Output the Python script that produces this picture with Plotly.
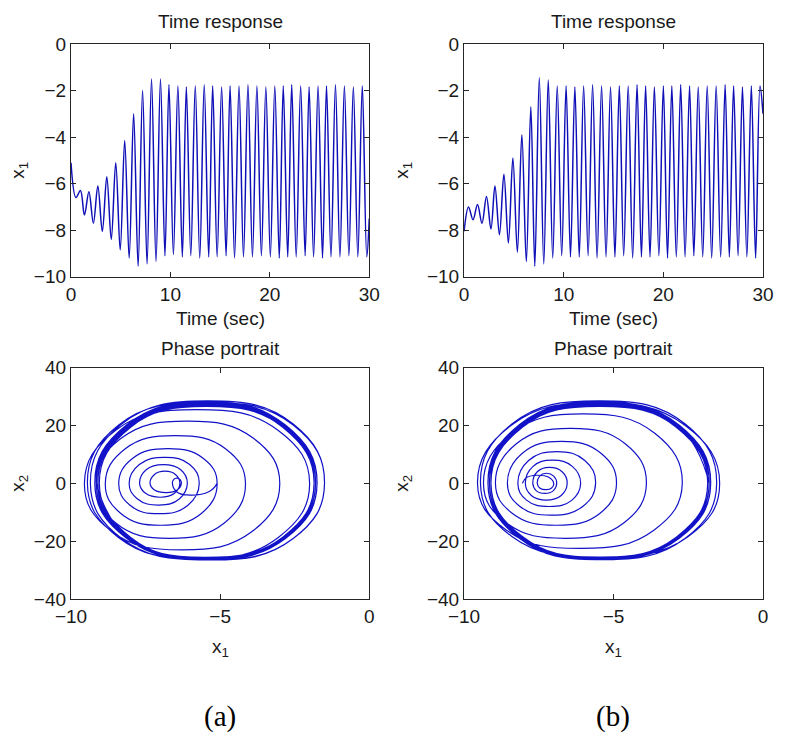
import plotly.graph_objects as go

# ---------------- data ----------------
# Panel (a): time and x1 at the start point and at each extremum of x1
a_t = [0.00, 0.50, 0.95, 1.35, 1.80, 2.25, 2.70, 3.15, 3.60, 4.05,
       4.50, 4.95, 5.40, 5.85, 6.30, 6.75, 7.20, 7.65, 8.10, 8.55,
       9.00, 9.45, 9.85, 10.30, 10.75, 11.20, 11.60, 12.05, 12.50, 12.95,
       13.40, 13.85, 14.25, 14.70, 15.15, 15.60, 16.00, 16.45, 16.90, 17.35,
       17.80, 18.25, 18.70, 19.15, 19.60, 20.05, 20.50, 20.95, 21.35, 21.80,
       22.20, 22.65, 23.10, 23.55, 23.95, 24.40, 24.85, 25.30, 25.70, 26.15,
       26.60, 27.05, 27.50, 27.95, 28.40, 28.85, 29.30, 29.75]
a_x1 = [-5.10, -6.60, -6.30, -7.35, -6.35, -7.70, -6.10, -8.05, -5.70, -8.40,
        -5.10, -8.85, -4.15, -9.20, -3.00, -9.55, -2.00, -9.45, -1.50, -9.35,
        -1.50, -9.10, -1.75, -9.05, -1.80, -9.15, -1.85, -9.10, -1.80, -9.20,
        -1.75, -9.15, -1.80, -9.15, -1.85, -9.10, -1.80, -9.20, -1.80, -9.15,
        -1.75, -9.15, -1.80, -9.10, -1.85, -9.15, -1.80, -9.20, -1.80, -9.15,
        -1.75, -9.15, -1.80, -9.10, -1.85, -9.15, -1.80, -9.20, -1.80, -9.15,
        -1.75, -9.15, -1.80, -9.10, -1.85, -9.15, -1.80, -9.15]
a_end_t, a_end_x1 = 30.0, -7.5
# phase portrait (a): per half-turn, the x2 extreme and where it sits in x1
a_hx2 = [-4.0, 1.8, -3.2, 4.2, -4.8, 6.5, -7.5, 9.0, -10.5, 12.0,
         -14.5, 16.5, -19.0, 21.5, -23.0, 25.5, -26.0, 28.0, -26.5, 28.5,
         -26.5, 27.5, -26.0, 27.0, -25.8, 27.8, -26.3, 26.8, -25.6, 27.5,
         -26.2, 28.2, -25.9, 27.2, -26.4, 26.6, -25.7, 27.9, -26.1, 27.3,
         -25.8, 26.9, -26.3, 28.0, -25.9, 27.4, -26.2, 26.7, -25.6, 27.6,
         -26.4, 28.1, -25.9, 27.0, -26.1, 27.5, -25.8, 26.8, -26.3, 27.9,
         -26.0, 27.2, -25.7, 27.6, -26.2, 26.9, -26.0]
a_hx1 = [-6.10, -6.45, -6.80, -6.85, -7.00, -6.90, -7.05, -6.85, -7.05, -6.75,
         -7.00, -6.50, -6.70, -6.10, -6.30, -5.80, -5.75, -5.50, -5.45, -5.40,
         -5.35, -5.40, -5.50, -5.45, -5.55, -5.40, -5.60, -5.45, -5.50, -5.40,
         -5.55, -5.45, -5.60, -5.40, -5.50, -5.45, -5.55, -5.40, -5.60, -5.45,
         -5.50, -5.40, -5.55, -5.45, -5.60, -5.40, -5.50, -5.45, -5.55, -5.40,
         -5.60, -5.45, -5.50, -5.40, -5.55, -5.45, -5.60, -5.40, -5.50, -5.45,
         -5.55, -5.40, -5.60, -5.45, -5.50, -5.40, -5.55]
# shoulder points of each half-turn (before / after the x2 extreme) and their x2
a_cAx1 = [-5.38, -6.56, -6.44, -7.21, -6.53, -7.48, -6.37, -7.71, -6.08, -7.94,
          -5.63, -8.19, -4.86, -8.33, -3.92, -8.50, -3.05, -8.40, -2.55, -8.30,
          -2.55, -8.05, -2.80, -8.00, -2.85, -8.10, -2.90, -8.05, -2.85, -8.15,
          -2.80, -8.10, -2.85, -8.10, -2.90, -8.05, -2.85, -8.15, -2.85, -8.10,
          -2.80, -8.10, -2.85, -8.05, -2.90, -8.10, -2.85, -8.15, -2.85, -8.10,
          -2.80, -8.10, -2.85, -8.05, -2.90, -8.10, -2.85, -8.15, -2.85, -8.10,
          -2.80, -8.10, -2.85, -8.05, -2.90, -8.10, -2.85]
a_cBx1 = [-6.46, -6.34, -7.20, -6.49, -7.50, -6.32, -7.77, -6.02, -8.02, -5.56,
          -8.33, -4.81, -8.50, -3.87, -8.64, -3.06, -8.41, -2.55, -8.30, -2.55,
          -8.05, -2.80, -8.00, -2.85, -8.10, -2.90, -8.05, -2.85, -8.15, -2.80,
          -8.10, -2.85, -8.10, -2.90, -8.05, -2.85, -8.15, -2.85, -8.10, -2.80,
          -8.10, -2.85, -8.05, -2.90, -8.10, -2.85, -8.15, -2.85, -8.10, -2.80,
          -8.10, -2.85, -8.05, -2.90, -8.10, -2.85, -8.15, -2.85, -8.10, -2.80,
          -8.10, -2.85, -8.05, -2.90, -8.10, -2.85, -8.10]
a_cx2 = [-2.9, 1.3, -2.3, 3.0, -3.45, 4.7, -5.4, 6.5, -7.6, 8.6,
         -10.4, 11.9, -13.7, 15.5, -16.6, 18.4, -18.7, 20.2, -19.1, 20.5,
         -19.1, 19.8, -18.7, 19.4, -18.6, 20.0, -18.9, 19.3, -18.4, 19.8,
         -18.9, 20.3, -18.6, 19.6, -19.0, 19.2, -18.5, 20.1, -18.8, 19.7,
         -18.6, 19.4, -18.9, 20.2, -18.6, 19.7, -18.9, 19.2, -18.4, 19.9,
         -19.0, 20.2, -18.6, 19.4, -18.8, 19.8, -18.6, 19.3, -18.9, 20.1,
         -18.7, 19.6, -18.5, 19.9, -18.9, 19.4, -18.7]

# Panel (b)
b_t = [0.00, 0.45, 0.90, 1.35, 1.80, 2.25, 2.70, 3.10, 3.55, 4.00,
       4.45, 4.90, 5.35, 5.80, 6.25, 6.70, 7.10, 7.55, 8.00, 8.45,
       8.90, 9.35, 9.80, 10.24, 10.68, 11.12, 11.56, 12.00, 12.45, 12.90,
       13.35, 13.80, 14.25, 14.70, 15.14, 15.58, 16.02, 16.47, 16.92, 17.36,
       17.80, 18.22, 18.66, 19.10, 19.55, 20.00, 20.42, 20.85, 21.30, 21.74,
       22.18, 22.63, 23.06, 23.50, 23.95, 24.40, 24.85, 25.30, 25.75, 26.20,
       26.62, 27.05, 27.50, 27.94, 28.38, 28.83, 29.26, 29.70]
b_x1 = [-8.05, -7.00, -7.55, -6.90, -7.70, -6.55, -7.95, -6.10, -8.20, -5.60,
        -8.55, -4.90, -8.95, -3.90, -9.35, -2.70, -9.55, -1.45, -9.45, -1.55,
        -9.20, -1.80, -9.10, -1.80, -9.15, -1.85, -9.15, -1.80, -9.10, -1.75,
        -9.20, -1.80, -9.15, -1.85, -9.15, -1.80, -9.10, -1.80, -9.20, -1.75,
        -9.15, -1.80, -9.15, -1.85, -9.10, -1.80, -9.20, -1.80, -9.15, -1.75,
        -9.15, -1.80, -9.10, -1.85, -9.15, -1.80, -9.20, -1.80, -9.15, -1.75,
        -9.15, -1.80, -9.10, -1.85, -9.15, -1.80, -9.20, -1.80]
b_end_t, b_end_x1 = 30.0, -3.0
b_hx2 = [2.8, -2.2, 3.5, -3.5, 5.5, -5.8, 8.0, -8.0, 11.0, -11.0,
         14.5, -14.5, 19.0, -19.0, 24.0, -22.5, 27.8, -25.5, 28.5, -26.4,
         27.5, -26.2, 27.0, -25.8, 27.8, -26.3, 26.8, -25.6, 27.5, -26.2,
         28.2, -25.9, 27.2, -26.4, 26.6, -25.7, 27.9, -26.1, 27.3, -25.8,
         26.9, -26.3, 28.0, -25.9, 27.4, -26.2, 26.7, -25.6, 27.6, -26.4,
         28.1, -25.9, 27.0, -26.1, 27.5, -25.8, 26.8, -26.3, 27.9, -26.0,
         27.2, -25.7, 27.6, -26.2, 26.9, -26.0, 27.3]
b_hx1 = [-7.55, -7.25, -7.25, -7.30, -7.15, -7.25, -7.05, -7.15, -6.90, -7.10,
         -6.75, -6.90, -6.45, -6.60, -6.00, -6.10, -5.55, -5.50, -5.45, -5.50,
         -5.45, -5.50, -5.45, -5.55, -5.40, -5.60, -5.45, -5.50, -5.40, -5.55,
         -5.45, -5.60, -5.40, -5.50, -5.45, -5.55, -5.40, -5.60, -5.45, -5.50,
         -5.40, -5.55, -5.45, -5.60, -5.40, -5.50, -5.45, -5.55, -5.40, -5.60,
         -5.45, -5.50, -5.40, -5.55, -5.45, -5.60, -5.40, -5.50, -5.45, -5.55,
         -5.40, -5.60, -5.45, -5.50, -5.40, -5.55, -5.45]
b_cAx1 = [-7.91, -7.07, -7.47, -7.01, -7.55, -6.75, -7.70, -6.39, -7.84, -6.02,
          -8.05, -5.46, -8.25, -4.66, -8.41, -3.65, -8.43, -2.50, -8.40, -2.60,
          -8.15, -2.85, -8.05, -2.85, -8.10, -2.90, -8.10, -2.85, -8.05, -2.80,
          -8.15, -2.85, -8.10, -2.90, -8.10, -2.85, -8.05, -2.85, -8.15, -2.80,
          -8.10, -2.85, -8.10, -2.90, -8.05, -2.85, -8.15, -2.85, -8.10, -2.80,
          -8.10, -2.85, -8.05, -2.90, -8.10, -2.85, -8.15, -2.85, -8.10, -2.80,
          -8.10, -2.85, -8.05, -2.90, -8.10, -2.85, -8.15]
b_cBx1 = [-7.15, -7.47, -7.00, -7.59, -6.72, -7.75, -6.37, -7.91, -5.96, -8.14,
          -5.42, -8.38, -4.61, -8.58, -3.62, -8.58, -2.60, -8.40, -2.60, -8.15,
          -2.85, -8.05, -2.85, -8.10, -2.90, -8.10, -2.85, -8.05, -2.80, -8.15,
          -2.85, -8.10, -2.90, -8.10, -2.85, -8.05, -2.85, -8.15, -2.80, -8.10,
          -2.85, -8.10, -2.90, -8.05, -2.85, -8.15, -2.85, -8.10, -2.80, -8.10,
          -2.85, -8.05, -2.90, -8.10, -2.85, -8.15, -2.85, -8.10, -2.80, -8.10,
          -2.85, -8.05, -2.90, -8.10, -2.85, -8.15, -2.85]
b_cx2 = [2.0, -1.6, 2.5, -2.5, 4.0, -4.2, 5.8, -5.8, 7.9, -7.9,
         10.4, -10.4, 13.7, -13.7, 17.3, -16.2, 20.0, -18.4, 20.5, -19.0,
         19.8, -18.9, 19.4, -18.6, 20.0, -18.9, 19.3, -18.4, 19.8, -18.9,
         20.3, -18.6, 19.6, -19.0, 19.2, -18.5, 20.1, -18.8, 19.7, -18.6,
         19.4, -18.9, 20.2, -18.6, 19.7, -18.9, 19.2, -18.4, 19.9, -19.0,
         20.2, -18.6, 19.4, -18.8, 19.8, -18.6, 19.3, -18.9, 20.1, -18.7,
         19.6, -18.5, 19.9, -18.9, 19.4, -18.7, 19.7]

time_ticks = [0, 10, 20, 30]
x1_ticks = [0, -2, -4, -6, -8, -10]
ph_x_ticks = [-10, -5, 0]
ph_y_ticks = [-40, -20, 0, 20, 40]
panel_labels = ["(a)", "(b)"]


def phase_path(ext_x1, cax1, hx1, cbx1, cx2, hx2):
    xs, ys = [], []
    for i in range(len(hx1)):
        xs += [ext_x1[i], cax1[i], hx1[i], cbx1[i]]
        ys += [0, cx2[i], hx2[i], cx2[i]]
    xs.append(ext_x1[-1])
    ys.append(0)
    return xs, ys


LINE_T = dict(color="#1010b8", width=1.5, shape="spline", smoothing=1.0)
LINE_P = dict(color="#1212c8", width=1.2, shape="spline", smoothing=1.3)

fig = go.Figure()
fig.add_trace(go.Scatter(x=a_t + [a_end_t], y=a_x1 + [a_end_x1], mode="lines",
                         line=LINE_T, xaxis="x", yaxis="y", showlegend=False))
fig.add_trace(go.Scatter(x=b_t + [b_end_t], y=b_x1 + [b_end_x1], mode="lines",
                         line=LINE_T, xaxis="x2", yaxis="y2", showlegend=False))
px, py = phase_path(a_x1, a_cAx1, a_hx1, a_cBx1, a_cx2, a_hx2)
fig.add_trace(go.Scatter(x=px, y=py, mode="lines", line=LINE_P,
                         xaxis="x3", yaxis="y3", showlegend=False))
px, py = phase_path(b_x1, b_cAx1, b_hx1, b_cBx1, b_cx2, b_hx2)
fig.add_trace(go.Scatter(x=px, y=py, mode="lines", line=LINE_P,
                         xaxis="x4", yaxis="y4", showlegend=False))

FONT = "Liberation Sans, Arial, sans-serif"
ax = dict(showline=True, linecolor="#262626", linewidth=1.2, mirror="ticks",
          ticks="inside", ticklen=5, tickcolor="#262626", showgrid=False,
          zeroline=False, fixedrange=True,
          tickfont=dict(family=FONT, size=19, color="#1a1a1a"))

# page body has an 8px margin; all page-pixel positions below are compensated
OFF = 8
W, H = 778, 732
ml, mt = 71 - OFF, 44 - OFF
pw = 774 - 71
ph = 599 - 44
mr = W - ml - pw
mb = H - mt - ph


def dx(p):
    return (p - OFF - ml) / pw


def dy(p):
    return (mt + ph - (p - OFF)) / ph


xd_left = [0, dx(374)]
xd_right = [dx(470.3), 1]
yd_top = [dy(276.7), 1]
yd_bot = [0, dy(367.7)]

fig.update_layout(
    width=W, height=H, margin=dict(l=ml, r=mr, t=mt, b=mb),
    paper_bgcolor="white", plot_bgcolor="white",
    xaxis=dict(ax, domain=xd_left, anchor="y", range=[0, 30], tickvals=time_ticks),
    yaxis=dict(ax, domain=yd_top, anchor="x", range=[-10, 0], tickvals=x1_ticks),
    xaxis2=dict(ax, domain=xd_right, anchor="y2", range=[0, 30], tickvals=time_ticks),
    yaxis2=dict(ax, domain=yd_top, anchor="x2", range=[-10, 0], tickvals=x1_ticks),
    xaxis3=dict(ax, domain=xd_left, anchor="y3", range=[-10, 0], tickvals=ph_x_ticks),
    yaxis3=dict(ax, domain=yd_bot, anchor="x3", range=[-40, 40], tickvals=ph_y_ticks),
    xaxis4=dict(ax, domain=xd_right, anchor="y4", range=[-10, 0], tickvals=ph_x_ticks),
    yaxis4=dict(ax, domain=yd_bot, anchor="x4", range=[-40, 40], tickvals=ph_y_ticks),
)

tf = dict(family=FONT, size=19, color="#1a1a1a")
anns = []
for cx_px, ylab_px in [(222.5, 18), (622, 408)]:
    cx = dx(cx_px)
    anns.append(dict(text="Time response", x=cx, y=dy(22), xref="paper", yref="paper",
                     showarrow=False, font=tf, xanchor="center", yanchor="middle"))
    anns.append(dict(text="Time (sec)", x=cx, y=dy(318), xref="paper", yref="paper",
                     showarrow=False, font=tf, xanchor="center", yanchor="middle"))
    anns.append(dict(text="Phase portrait", x=cx, y=dy(348), xref="paper", yref="paper",
                     showarrow=False, font=tf, xanchor="center", yanchor="middle"))
    anns.append(dict(text="x<sub>1</sub>", x=cx, y=dy(648), xref="paper", yref="paper",
                     showarrow=False, font=tf, xanchor="center", yanchor="middle"))
    anns.append(dict(text="x<sub>1</sub>", x=dx(ylab_px), y=dy(170), xref="paper", yref="paper",
                     showarrow=False, font=tf, textangle=-90, xanchor="center", yanchor="middle"))
    anns.append(dict(text="x<sub>2</sub>", x=dx(ylab_px), y=dy(483), xref="paper", yref="paper",
                     showarrow=False, font=tf, textangle=-90, xanchor="center", yanchor="middle"))
for lab, cx_px in zip(panel_labels, [222.5, 622]):
    anns.append(dict(text=lab, x=dx(cx_px), y=dy(716), xref="paper", yref="paper",
                     showarrow=False, xanchor="center", yanchor="middle",
                     font=dict(family="Liberation Serif, Times New Roman, serif", size=29, color="black")))
fig.update_layout(annotations=anns)

fig.write_html("out.html")
